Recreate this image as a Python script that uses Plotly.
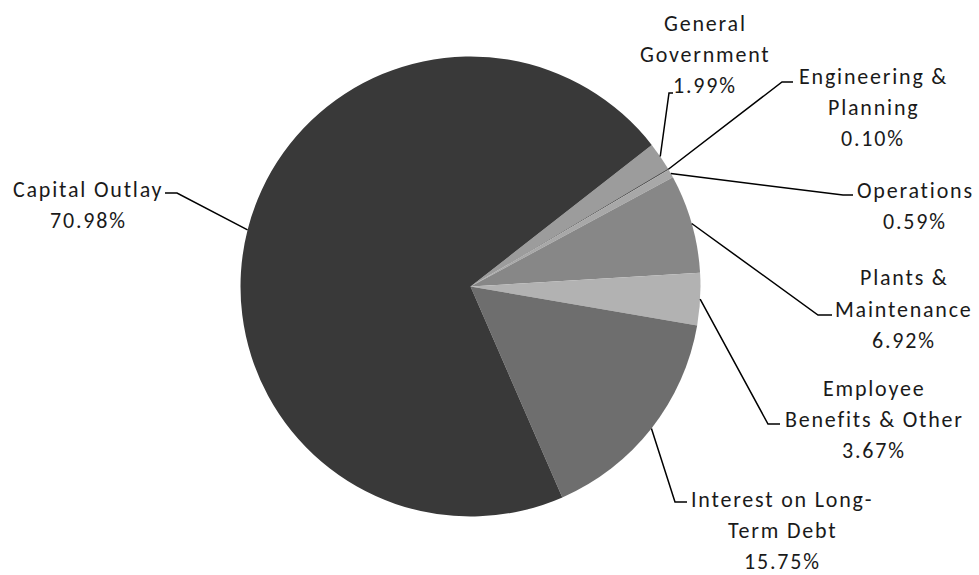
import math
import plotly.graph_objects as go

# ---- data ----
categories = ["General Government", "Engineering & Planning", "Operations",
              "Plants & Maintenance", "Employee Benefits & Other",
              "Interest on Long-Term Debt", "Capital Outlay"]
percent_values = [1.99, 0.10, 0.59, 6.92, 3.67, 15.75, 70.98]
label_lines = [
    ["General", "Government"],
    ["Engineering &", "Planning"],
    ["Operations"],
    ["Plants &", "Maintenance"],
    ["Employee", "Benefits & Other"],
    ["Interest on Long-", "Term Debt"],
    ["Capital Outlay"],
]

# ---- style / layout ----
W, H = 979, 575
colors = ["#9c9c9c", "#555555", "#a8a8a8", "#878787", "#b2b2b2", "#6e6e6e", "#393939"]
cx, cy, R = 470.5, 286.5, 230.0
rotation = 52
font_family = "Carlito, Lato, sans-serif"
font_size = 22
letter_spacing = "1.8px"
line_gap = 31
# label block: (center x, first-line y), leader elbow (x, y), horizontal end x
label_style = [
    dict(tx=705, ty=23, ex=669, ey=93, hx=673),
    dict(tx=873, ty=76, ex=782, ey=82, hx=793),
    dict(tx=915, ty=191, ex=843, ey=195, hx=853),
    dict(tx=904, ty=278, ex=818, ey=315, hx=832),
    dict(tx=874, ty=388, ex=768, ey=424, hx=780),
    dict(tx=782, ty=499, ex=675, ey=502, hx=687),
    dict(tx=88, ty=189, ex=177, ey=193, hx=165),
]

def px(x):
    return x / W

def py(y):
    return 1 - y / H

fig = go.Figure(go.Pie(
    labels=categories,
    values=percent_values,
    sort=False,
    direction="clockwise",
    rotation=rotation,
    marker=dict(colors=colors, line=dict(width=0)),
    textinfo="none",
    hoverinfo="label+percent",
    showlegend=False,
    domain=dict(x=[px(cx - R), px(cx + R)], y=[py(cy + R), py(cy - R)]),
))

total = sum(percent_values)
shapes = []
annotations = []
cum = 0.0
for i, v in enumerate(percent_values):
    mid = math.radians(rotation + (cum + v / 2) / total * 360)
    cum += v
    sx = cx + R * math.sin(mid)
    sy = cy - R * math.cos(mid)
    st = label_style[i]
    path = "M {} {} L {} {} L {} {}".format(
        px(sx), py(sy), px(st["ex"]), py(st["ey"]), px(st["hx"]), py(st["ey"]))
    shapes.append(dict(type="path", path=path, xref="paper", yref="paper",
                       line=dict(color="#000000", width=1.5)))
    lines = label_lines[i] + ["{:.2f}%".format(v)]
    for j, t in enumerate(lines):
        annotations.append(dict(
            x=px(st["tx"]), y=py(st["ty"] + j * line_gap), xref="paper", yref="paper",
            text="<span style='letter-spacing:{}'>{}</span>".format(letter_spacing, t),
            showarrow=False, xanchor="center", yanchor="middle",
            font=dict(family=font_family, size=font_size, color="#1a1a1a")))

fig.update_layout(
    width=W, height=H,
    margin=dict(l=0, r=0, t=0, b=0),
    paper_bgcolor="white", plot_bgcolor="white",
    shapes=shapes, annotations=annotations,
)

fig.write_html("out.html")
